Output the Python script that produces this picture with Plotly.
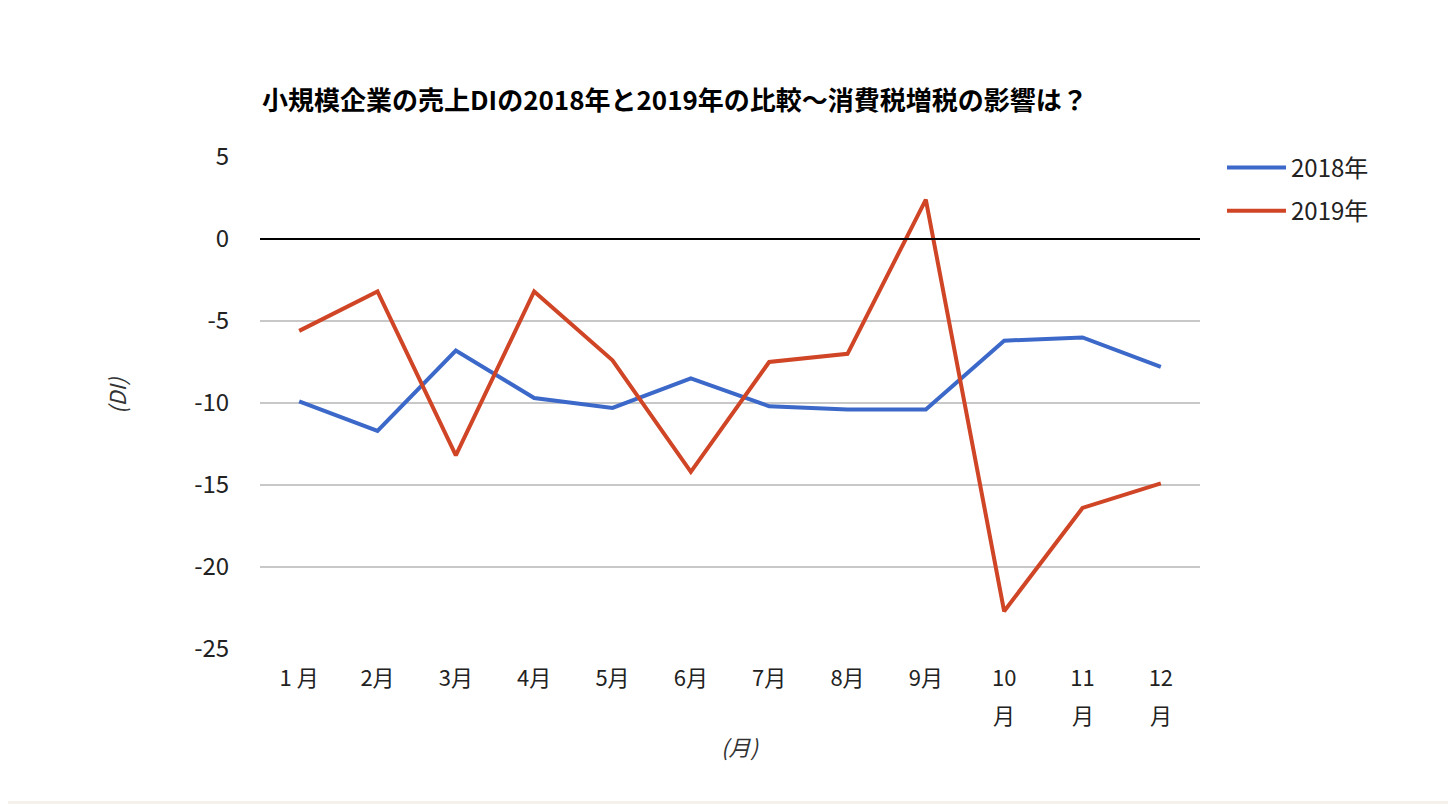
import plotly.graph_objects as go

months = ["1月", "2月", "3月", "4月", "5月", "6月", "7月", "8月", "9月", "10月", "11月", "12月"]
month_top = ["1 月", "2月", "3月", "4月", "5月", "6月", "7月", "8月", "9月", "10", "11", "12"]
month_bottom = ["", "", "", "", "", "", "", "", "", "月", "月", "月"]
di_2018 = [-9.9, -11.7, -6.8, -9.7, -10.3, -8.5, -10.2, -10.4, -10.4, -6.2, -6.0, -7.8]
di_2019 = [-5.6, -3.2, -13.2, -3.2, -7.4, -14.2, -7.5, -7.0, 2.4, -22.7, -16.4, -14.9]
y_ticks = [5, 0, -5, -10, -15, -20, -25]
y_tick_text = ["5", "0", "-5", "-10", "-15", "-20", "-25"]

FONT = "Noto Sans CJK JP"
W, H = 1456, 804
OFF = 8  # page body margin offset
L, T = 260 - OFF, 157 - OFF
R = W - (1200 - OFF)
B = H - (649 - OFF)
pw, ph = W - L - R, H - T - B


def px_x(p):
    return (p - OFF - L) / pw


def px_y(p):
    return (H - B - (p - OFF)) / ph


fig = go.Figure()
fig.add_trace(go.Scatter(x=months, y=di_2018, mode="lines", name="2018年",
                         line=dict(color="#3c69c9", width=4), legendgroup="a"))
fig.add_trace(go.Scatter(x=months, y=di_2019, mode="lines", name="2019年",
                         line=dict(color="#cf4526", width=4), legendgroup="b"))

BEIGE = "#f3f1ea"
shapes = [
    dict(type="rect", xref="paper", yref="paper", layer="below",
         x0=px_x(1453), x1=px_x(1470), y0=px_y(820), y1=px_y(-10),
         fillcolor=BEIGE, line=dict(width=0)),
    dict(type="rect", xref="paper", yref="paper", layer="below",
         x0=px_x(-10), x1=px_x(1470), y0=px_y(820), y1=px_y(801),
         fillcolor=BEIGE, line=dict(width=0)),
    dict(type="line", xref="paper", yref="y", x0=0, x1=1, y0=0, y1=0,
         line=dict(color="black", width=2)),
]

annotations = [
    dict(text="<i>(DI)</i>", xref="paper", yref="paper",
         x=px_x(98), y=px_y(395), showarrow=False, textangle=-90,
         font=dict(size=22, color="#333")),
    dict(text="<i>(月)</i>", xref="paper", yref="paper",
         x=px_x(740), y=px_y(764), showarrow=False,
         font=dict(size=22, color="#333")),
]
for m, lab in zip(months, month_bottom):
    if lab:
        annotations.append(dict(text=lab, xref="x", yref="paper", x=m,
                                y=px_y(714), showarrow=False, yanchor="middle",
                                font=dict(size=22, color="#222")))

fig.update_layout(
    width=W, height=H,
    margin=dict(l=L, r=R, t=T, b=B, autoexpand=False),
    paper_bgcolor="white",
    plot_bgcolor="white",
    font=dict(family=FONT, size=22, color="#222"),
    title=dict(text="<b>小規模企業の売上DIの2018年と2019年の比較〜消費税増税の影響は？</b>",
               x=px_x(262), xanchor="left", xref="paper",
               y=1 - (101 - OFF) / H, yanchor="middle",
               font=dict(family=FONT, size=26, color="black")),
    xaxis=dict(tickmode="array", tickvals=months, ticktext=month_top,
               range=[-0.5, 11.5],
               showgrid=False, showline=False, zeroline=False,
               ticks="outside", ticklen=10, tickcolor="rgba(0,0,0,0)",
               tickfont=dict(size=22, color="#222")),
    yaxis=dict(range=[-25, 5], tickmode="array", tickvals=y_ticks,
               ticktext=y_tick_text,
               showgrid=True, gridcolor="#c8c8c8", gridwidth=2,
               zeroline=False, showline=False,
               ticks="outside", ticklen=25, tickcolor="rgba(0,0,0,0)",
               tickfont=dict(size=24, color="#222")),
    legend=dict(x=px_x(1222), xanchor="left", y=px_y(189.5), yanchor="middle",
                font=dict(size=24, color="#222"), tracegroupgap=9,
                traceorder="grouped", bgcolor="rgba(0,0,0,0)", itemwidth=59),
    shapes=shapes,
    annotations=annotations,
)

fig.write_html("out.html")
